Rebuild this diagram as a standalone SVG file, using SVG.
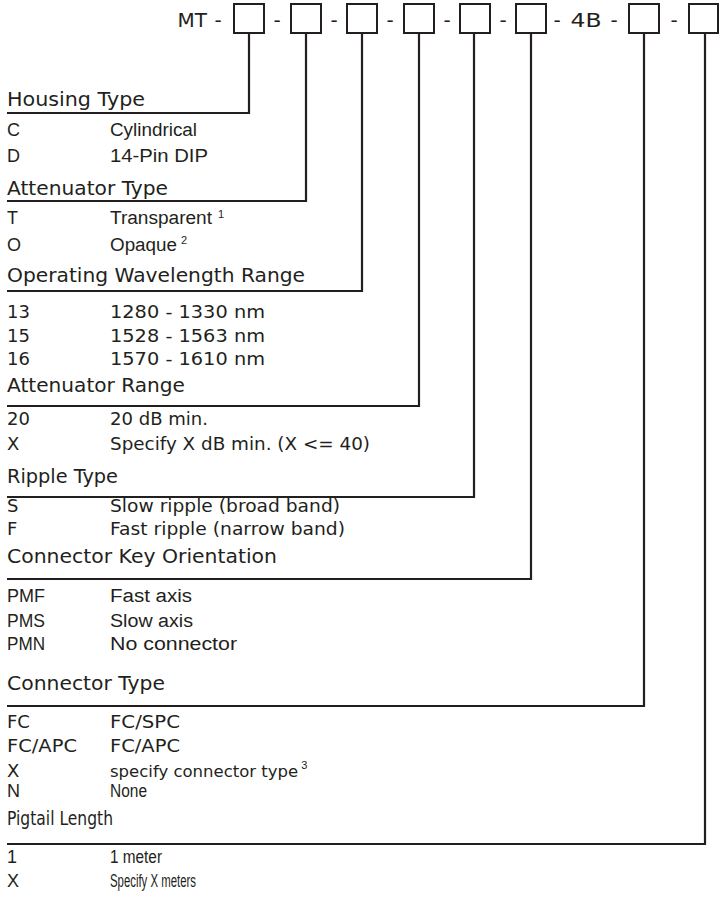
<svg xmlns="http://www.w3.org/2000/svg" width="720" height="899" viewBox="0 0 720 899">
<style>
text{fill:#231f20}
.hd{font-family:"DejaVu Sans",sans-serif;font-size:19.5px}
.ti{font-family:"DejaVu Sans",sans-serif;font-size:20px}
.a{font-family:"Liberation Sans",Arial,sans-serif;font-size:18px}
.w{font-family:"DejaVu Sans",sans-serif;font-size:18px}
.sup{font-family:"Liberation Sans",Arial,sans-serif;font-size:11px}
.box{fill:none;stroke:#231f20;stroke-width:2}
.ln{fill:none;stroke:#231f20;stroke-width:2.2}
</style>
<rect width="720" height="899" fill="#ffffff"/>
<g id="code">
<text class="ti" x="207" y="27" text-anchor="end">MT</text>
<text class="ti" x="218" y="27" text-anchor="middle">-</text>
<text class="ti" x="277" y="27" text-anchor="middle">-</text>
<text class="ti" x="334" y="27" text-anchor="middle">-</text>
<text class="ti" x="390" y="27" text-anchor="middle">-</text>
<text class="ti" x="447" y="27" text-anchor="middle">-</text>
<text class="ti" x="503" y="27" text-anchor="middle">-</text>
<text class="ti" x="557" y="27" text-anchor="middle">-</text>
<text class="ti" x="586" y="27" text-anchor="middle" textLength="31" lengthAdjust="spacingAndGlyphs">4B</text>
<text class="ti" x="614" y="27" text-anchor="middle">-</text>
<text class="ti" x="674" y="27" text-anchor="middle">-</text>
<rect class="box" x="234" y="4" width="30" height="29"/>
<rect class="box" x="291" y="4" width="30" height="29"/>
<rect class="box" x="347" y="4" width="30" height="29"/>
<rect class="box" x="404" y="4" width="30" height="29"/>
<rect class="box" x="460" y="4" width="30" height="29"/>
<rect class="box" x="516" y="4" width="30" height="29"/>
<rect class="box" x="629" y="4" width="30" height="29"/>
<rect class="box" x="689" y="4" width="29" height="29"/>
</g>
<g id="connectors">
<polyline class="ln" points="7,113 249,113 249,33"/>
<polyline class="ln" points="7,201 306,201 306,33"/>
<polyline class="ln" points="7,291 362,291 362,33"/>
<polyline class="ln" points="7,406 419,406 419,33"/>
<polyline class="ln" points="7,497 474,497 474,33"/>
<polyline class="ln" points="7,579 531,579 531,33"/>
<polyline class="ln" points="7,706 644,706 644,33"/>
<polyline class="ln" points="7,844 705,844 705,33"/>
</g>
<g id="housing-type">
<text class="hd" x="7" y="106" textLength="138" lengthAdjust="spacingAndGlyphs">Housing Type</text>
<text class="a" x="7" y="136">C</text>
<text class="a" x="110" y="136" textLength="87" lengthAdjust="spacingAndGlyphs">Cylindrical</text>
<text class="a" x="7" y="162">D</text>
<text class="a" x="110" y="162" textLength="98" lengthAdjust="spacingAndGlyphs">14-Pin DIP</text>
</g>
<g id="attenuator-type">
<text class="hd" x="7" y="195" textLength="161" lengthAdjust="spacingAndGlyphs">Attenuator Type</text>
<text class="a" x="7" y="224">T</text>
<text class="a" x="110" y="224" textLength="102" lengthAdjust="spacingAndGlyphs">Transparent</text>
<text class="sup" x="218" y="218">1</text>
<text class="a" x="7" y="251">O</text>
<text class="a" x="110" y="251" textLength="67" lengthAdjust="spacingAndGlyphs">Opaque</text>
<text class="sup" x="181" y="244">2</text>
</g>
<g id="wavelength">
<text class="hd" x="7" y="282" textLength="298" lengthAdjust="spacingAndGlyphs">Operating Wavelength Range</text>
<text class="w" x="7" y="318">13</text>
<text class="w" x="110" y="318" textLength="155" lengthAdjust="spacingAndGlyphs">1280 - 1330 nm</text>
<text class="w" x="7" y="342">15</text>
<text class="w" x="110" y="342" textLength="155" lengthAdjust="spacingAndGlyphs">1528 - 1563 nm</text>
<text class="w" x="7" y="365">16</text>
<text class="w" x="110" y="365" textLength="155" lengthAdjust="spacingAndGlyphs">1570 - 1610 nm</text>
</g>
<g id="attenuator-range">
<text class="hd" x="7" y="392" textLength="178" lengthAdjust="spacingAndGlyphs">Attenuator Range</text>
<text class="w" x="7" y="425">20</text>
<text class="w" x="110" y="425" textLength="98" lengthAdjust="spacingAndGlyphs">20 dB min.</text>
<text class="w" x="7" y="450">X</text>
<text class="w" x="110" y="450" textLength="260" lengthAdjust="spacingAndGlyphs">Specify X dB min. (X &lt;= 40)</text>
</g>
<g id="ripple-type">
<text class="hd" x="7" y="483" textLength="111" lengthAdjust="spacingAndGlyphs">Ripple Type</text>
<text class="w" x="7" y="512">S</text>
<text class="w" x="110" y="512" textLength="230" lengthAdjust="spacingAndGlyphs">Slow ripple (broad band)</text>
<text class="w" x="7" y="535">F</text>
<text class="w" x="110" y="535" textLength="235" lengthAdjust="spacingAndGlyphs">Fast ripple (narrow band)</text>
</g>
<g id="key-orientation">
<text class="hd" x="7" y="563" textLength="270" lengthAdjust="spacingAndGlyphs">Connector Key Orientation</text>
<text class="a" x="7" y="602" textLength="38" lengthAdjust="spacingAndGlyphs">PMF</text>
<text class="a" x="110" y="602" textLength="82" lengthAdjust="spacingAndGlyphs">Fast axis</text>
<text class="a" x="7" y="627" textLength="38" lengthAdjust="spacingAndGlyphs">PMS</text>
<text class="a" x="110" y="627" textLength="83" lengthAdjust="spacingAndGlyphs">Slow axis</text>
<text class="a" x="7" y="650" textLength="38" lengthAdjust="spacingAndGlyphs">PMN</text>
<text class="a" x="110" y="650" textLength="127" lengthAdjust="spacingAndGlyphs">No connector</text>
</g>
<g id="connector-type">
<text class="hd" x="7" y="690" textLength="158" lengthAdjust="spacingAndGlyphs">Connector Type</text>
<text class="w" x="7" y="728">FC</text>
<text class="w" x="110" y="728" textLength="70" lengthAdjust="spacingAndGlyphs">FC/SPC</text>
<text class="w" x="7" y="752" textLength="70" lengthAdjust="spacingAndGlyphs">FC/APC</text>
<text class="w" x="110" y="752" textLength="70" lengthAdjust="spacingAndGlyphs">FC/APC</text>
<text class="w" x="7" y="777">X</text>
<text class="w" x="110" y="777" style="font-size:16.5px">specify connector type<tspan class="sup" dx="3" dy="-8">3</tspan></text>
<text class="a" x="7" y="797">N</text>
<text class="a" x="110" y="797" textLength="37" lengthAdjust="spacingAndGlyphs">None</text>
</g>
<g id="pigtail-length">
<text class="hd" x="7" y="825" textLength="106" lengthAdjust="spacingAndGlyphs">Pigtail Length</text>
<text class="a" x="7" y="863">1</text>
<text class="a" x="110" y="863" textLength="52" lengthAdjust="spacingAndGlyphs">1 meter</text>
<text class="a" x="7" y="887">X</text>
<text class="a" x="110" y="887" textLength="86" lengthAdjust="spacingAndGlyphs">Specify X meters</text>
</g>
</svg>
